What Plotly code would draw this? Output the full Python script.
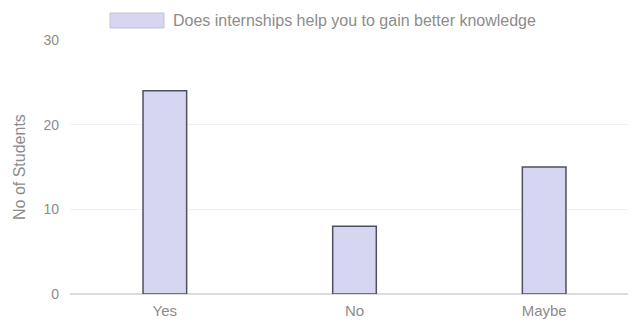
import plotly.graph_objects as go

categories = ["Yes", "No", "Maybe"]
values = [24, 8, 15]
y_ticks = [0, 10, 20, 30]
legend_label = "Does internships help you to gain better knowledge"
y_title = "No of Students"

fill = "rgba(212,212,240,0.95)"
border = "#4e4f62"
font_col = "#8c8c8c"

# page has an 8px body margin, figure is offset accordingly
W, H = 631, 322
L, R, T, B = 62, 0, 32, 36
PW, PH = W - L - R, H - T - B

def px_x(x):
    return (x - 8 - L) / PW

def px_y(y):
    return 1 + (T - (y - 8)) / PH

fig = go.Figure()
fig.add_trace(go.Bar(
    x=categories, y=values, width=0.23,
    marker=dict(color=fill, line=dict(color=border, width=1.5)),
    showlegend=False, name=legend_label,
))

fig.update_layout(
    width=W, height=H,
    margin=dict(l=L, r=R, t=T, b=B, autoexpand=False),
    paper_bgcolor="white", plot_bgcolor="white",
    font=dict(family="Liberation Sans, Arial, sans-serif", size=15, color=font_col),
    xaxis=dict(showgrid=False, showline=False, ticks="", automargin=False,
               ticklabelstandoff=6,
               tickfont=dict(size=15, color=font_col)),
    yaxis=dict(range=[0, 30], tickvals=y_ticks, showgrid=True, gridcolor="#f0f0f0",
               zeroline=True, zerolinecolor="#dcdcdc", zerolinewidth=1.5, ticks="",
               automargin=False, ticklabelstandoff=10,
               tickfont=dict(size=14, color=font_col)),
    shapes=[dict(type="rect", xref="paper", yref="paper",
                 x0=px_x(110), x1=px_x(164),
                 y0=px_y(28), y1=px_y(13),
                 fillcolor=fill, line=dict(color="#c0c0dc", width=1))],
    annotations=[
        dict(text=legend_label, xref="paper", yref="paper",
             x=px_x(171), y=px_y(21), xanchor="left", yanchor="middle",
             showarrow=False, font=dict(size=16, color=font_col)),
        dict(text=y_title, xref="paper", yref="paper", textangle=-90,
             x=px_x(19), y=0.5, xanchor="center", yanchor="middle",
             showarrow=False, font=dict(size=16, color=font_col)),
    ],
)

fig.write_html("out.html")
